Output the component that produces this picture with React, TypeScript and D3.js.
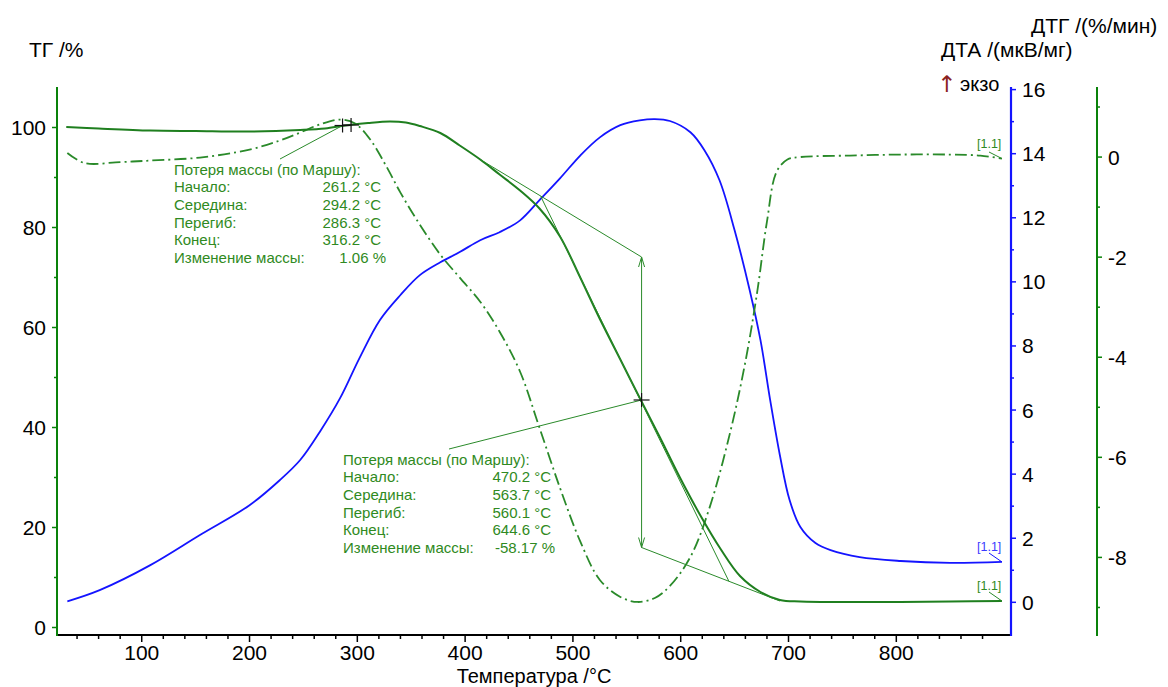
import * as d3 from 'd3'

// TG curve (mass, %)
const TG_T = [30, 60, 108, 150, 200, 247, 270, 289, 310, 330, 345, 358, 377, 395, 414, 432, 451, 469, 488, 507, 525, 544, 562, 581, 599, 618, 637, 655, 674, 692, 711, 760, 804, 850, 898]
const TG_V = [100.1, 99.8, 99.4, 99.3, 99.2, 99.5, 99.8, 100.4, 100.9, 101.2, 101.0, 100.3, 98.9, 96.4, 93.6, 90.6, 87.4, 83.8, 78.2, 69.9, 61.7, 53.6, 45.9, 37.9, 30.1, 22.5, 15.7, 10.3, 7.1, 5.5, 5.2, 5.1, 5.1, 5.2, 5.3]

// DTA curve (µV/mg)
const DTA_T = [31, 61, 108, 154, 200, 228, 247, 265, 284, 302, 321, 340, 358, 377, 395, 414, 432, 451, 469, 488, 507, 525, 544, 562, 576, 590, 609, 622, 636, 650, 664, 674, 683, 692, 701, 711, 725, 739, 766, 804, 850, 898]
const DTA_V = [0.03, 0.38, 1.16, 2.10, 3.03, 3.81, 4.44, 5.31, 6.37, 7.62, 8.81, 9.59, 10.21, 10.61, 10.93, 11.30, 11.55, 11.92, 12.55, 13.23, 13.95, 14.51, 14.89, 15.04, 15.08, 15.02, 14.67, 14.11, 13.17, 11.61, 9.74, 8.18, 6.31, 4.59, 3.19, 2.35, 1.85, 1.63, 1.41, 1.29, 1.23, 1.26]

// DTG curve (%/min)
const DTG_T = [31, 47, 80, 108, 154, 200, 228, 247, 265, 284, 298, 312, 326, 340, 358, 377, 395, 414, 432, 451, 469, 488, 507, 525, 544, 560, 576, 590, 609, 627, 646, 660, 671, 680, 689, 699, 711, 757, 804, 850, 878, 898]
const DTG_V = [0.08, -0.12, -0.10, -0.07, -0.01, 0.15, 0.33, 0.49, 0.65, 0.75, 0.67, 0.35, -0.15, -0.71, -1.35, -1.95, -2.41, -2.89, -3.49, -4.29, -5.41, -6.61, -7.69, -8.45, -8.79, -8.89, -8.81, -8.57, -7.99, -6.99, -5.49, -4.09, -2.69, -1.29, -0.29, -0.05, 0.0, 0.03, 0.05, 0.05, 0.03, -0.03]

// axis ticks
const X_MAJOR = [100, 200, 300, 400, 500, 600, 700, 800]
const X_MINOR = d3.range(40, 901, 20).filter(v => v % 100 !== 0)
const TG_TICKS = [0, 20, 40, 60, 80, 100]
const TG_MINOR = [10, 30, 50, 70, 90]
const DTA_TICKS = [0, 2, 4, 6, 8, 10, 12, 14, 16]
const DTA_MINOR = [1, 3, 5, 7, 9, 11, 13, 15]
const DTG_TICKS = [0, -2, -4, -6, -8]
const DTG_MINOR = [1, -1, -3, -5, -7, -9]

// Marsh evaluation results
const STEP_LABELS = ['Потеря массы (по Маршу):', 'Начало:', 'Середина:', 'Перегиб:', 'Конец:', 'Изменение массы:']
const STEP1_VALUES = ['', '261.2 °C', '294.2 °C', '286.3 °C', '316.2 °C', '1.06 %']
const STEP2_VALUES = ['', '470.2 °C', '563.7 °C', '560.1 °C', '644.6 °C', '-58.17 %']
const STEP1_CROSSES = [[286.3, 100.4], [294.2, 100.5]]
const STEP2_MID = [563.7, 45.5]
const STEP2_UPPER = [[414, 93.6], [563.7, 74.1]]
const STEP2_TANGENT = [[470.2, 86.2], [644.6, 9.3]]
const STEP2_LOWER = [[563.7, 16.0], [692, 5.3]]

const W = 1168
const H = 687
const FONT = 'Arial, "Liberation Sans", sans-serif'
const GREEN_AX = '#0a820a'
const TG_COL = '#1f7f1f'
const DTG_COL = '#2a8a2a'
const TXT_GREEN = '#2f8a22'
const BLUE = '#1414ff'

export default function App() {
  const x = d3.scaleLinear().domain([21.4, 906.4]).range([57, 1011])
  const yTG = d3.scaleLinear().domain([-1.5, 107.9]).range([635, 88])
  const yDTA = d3.scaleLinear().domain([-1.02, 16.05]).range([635, 88])
  const yDTG = d3.scaleLinear().domain([-9.55, 1.38]).range([635, 88])

  const mk = (ys: d3.ScaleLinear<number, number>) =>
    d3.line<[number, number]>().x(d => x(d[0])).y(d => ys(d[1])).curve(d3.curveCatmullRom.alpha(0.5))

  const tgPts = TG_T.map((t, i) => [t, TG_V[i]] as [number, number])
  const dtaPts = DTA_T.map((t, i) => [t, DTA_V[i]] as [number, number])
  const dtgPts = DTG_T.map((t, i) => [t, DTG_V[i]] as [number, number])

  const seg = (p: number[][], key: string) => (
    <line key={key} x1={x(p[0][0])} y1={yTG(p[0][1])} x2={x(p[1][0])} y2={yTG(p[1][1])}
      stroke={DTG_COL} strokeWidth={1} />
  )

  const ax = x(STEP2_MID[0])
  const aTop = yTG(STEP2_UPPER[1][1])
  const aBot = yTG(STEP2_LOWER[0][1])

  const cross = (cx: number, cy: number, key: string) => (
    <g key={key} stroke="#111" strokeWidth={1.2}>
      <line x1={cx - 8} y1={cy} x2={cx + 8} y2={cy} />
      <line x1={cx} y1={cy - 7} x2={cx} y2={cy + 7} />
    </g>
  )

  const block = (x0: number, xv: number, xp: number, y0: number, values: string[]) =>
    STEP_LABELS.map((lab, i) => (
      <g key={lab} fontSize={15} fill={TXT_GREEN} fontFamily={FONT}>
        <text x={x0} y={y0 + i * 17.7} dominantBaseline="central">{lab}</text>
        {values[i] && (
          <text x={i === 5 ? xp : xv} y={y0 + i * 17.7} textAnchor="end" dominantBaseline="central">{values[i]}</text>
        )}
      </g>
    ))

  const lastTG = tgPts[tgPts.length - 1]
  const lastDTA = dtaPts[dtaPts.length - 1]
  const lastDTG = dtgPts[dtgPts.length - 1]

  return (
    <svg width={W} height={H} style={{ position: 'absolute', left: 0, top: 0, background: '#fff' }}
      fontFamily={FONT}>
      {/* titles */}
      <text x={29} y={57} fontSize={21}>ТГ /%</text>
      <text x={1031} y={33} fontSize={21}>ДТГ /(%/мин)</text>
      <text x={941} y={57} fontSize={21}>ДТА /(мкВ/мг)</text>
      <text x={937} y={92} fontSize={23} fill="#8b1f1f" fontFamily='"DejaVu Sans", sans-serif'>↑</text>
      <text x={960} y={91} fontSize={20}>экзо</text>
      <text x={534} y={682.5} fontSize={20} textAnchor="middle">Температура /°C</text>

      {/* bottom axis */}
      <line x1={56} y1={635} x2={1012} y2={635} stroke="#000" strokeWidth={2} />
      {X_MINOR.map(v => <line key={'xm' + v} x1={x(v)} x2={x(v)} y1={635} y2={639} stroke="#000" strokeWidth={1.5} />)}
      {X_MAJOR.map(v => (
        <g key={'xM' + v}>
          <line x1={x(v)} x2={x(v)} y1={635} y2={642} stroke="#000" strokeWidth={1.5} />
          <text x={x(v)} y={659.5} fontSize={21} textAnchor="middle">{v}</text>
        </g>
      ))}

      {/* left TG axis */}
      <line x1={57} y1={87} x2={57} y2={636} stroke={GREEN_AX} strokeWidth={2} />
      {TG_MINOR.map(v => <line key={'tm' + v} x1={54} x2={57} y1={yTG(v)} y2={yTG(v)} stroke={GREEN_AX} strokeWidth={1.5} />)}
      {TG_TICKS.map(v => (
        <g key={'tg' + v}>
          <line x1={52} x2={57} y1={yTG(v)} y2={yTG(v)} stroke={GREEN_AX} strokeWidth={1.5} />
          <text x={46} y={yTG(v)} fontSize={21} textAnchor="end" dominantBaseline="central">{v}</text>
        </g>
      ))}

      {/* DTA axis */}
      <line x1={1011} y1={87} x2={1011} y2={636} stroke={BLUE} strokeWidth={2.2} />
      {DTA_MINOR.map(v => <line key={'dm' + v} x1={1011} x2={1014} y1={yDTA(v)} y2={yDTA(v)} stroke={BLUE} strokeWidth={1.5} />)}
      {DTA_TICKS.map(v => (
        <g key={'da' + v}>
          <line x1={1011} x2={1016} y1={yDTA(v)} y2={yDTA(v)} stroke={BLUE} strokeWidth={1.5} />
          <text x={1022} y={yDTA(v)} fontSize={21} dominantBaseline="central">{v}</text>
        </g>
      ))}

      {/* DTG axis */}
      <line x1={1097} y1={87} x2={1097} y2={636} stroke={GREEN_AX} strokeWidth={2} />
      {DTG_MINOR.map(v => <line key={'gm' + v} x1={1097} x2={1100} y1={yDTG(v)} y2={yDTG(v)} stroke={GREEN_AX} strokeWidth={1.5} />)}
      {DTG_TICKS.map(v => (
        <g key={'dg' + v}>
          <line x1={1097} x2={1102} y1={yDTG(v)} y2={yDTG(v)} stroke={GREEN_AX} strokeWidth={1.5} />
          <text x={1108} y={yDTG(v)} fontSize={21} dominantBaseline="central">{v}</text>
        </g>
      ))}

      {/* curves */}
      <path d={mk(yDTA)(dtaPts) ?? ''} fill="none" stroke={BLUE} strokeWidth={1.8} />
      <path d={mk(yDTG)(dtgPts) ?? ''} fill="none" stroke={DTG_COL} strokeWidth={1.8} strokeDasharray="12,4,2,4" />
      <path d={mk(yTG)(tgPts) ?? ''} fill="none" stroke={TG_COL} strokeWidth={2} />

      {/* Marsh construction, step 2 */}
      {seg(STEP2_UPPER, 'up')}
      {seg(STEP2_TANGENT, 'tan')}
      {seg(STEP2_LOWER, 'low')}
      <g stroke={DTG_COL} strokeWidth={1} fill="none">
        <line x1={ax} y1={aTop} x2={ax} y2={aBot} />
        <polyline points={`${ax - 3},${aTop + 10} ${ax},${aTop} ${ax + 3},${aTop + 10}`} />
        <polyline points={`${ax - 3},${aBot - 10} ${ax},${aBot} ${ax + 3},${aBot - 10}`} />
        <line x1={449} y1={449} x2={ax} y2={yTG(STEP2_MID[1])} />
        <line x1={280} y1={159} x2={x(STEP1_CROSSES[0][0])} y2={yTG(STEP1_CROSSES[0][1])} />
      </g>
      {cross(ax, yTG(STEP2_MID[1]), 'c2')}
      {STEP1_CROSSES.map((c, i) => cross(x(c[0]), yTG(c[1]), 'c1' + i))}

      {/* result blocks */}
      {block(174, 381, 386, 169, STEP1_VALUES)}
      {block(343, 551, 555, 459, STEP2_VALUES)}

      {/* curve labels */}
      <g fontSize={12.5} fontFamily={FONT}>
        <text x={977} y={148} fill={TXT_GREEN}>[1.1]</text>
        <line x1={989} y1={152} x2={x(lastDTG[0])} y2={yDTG(lastDTG[1])} stroke={DTG_COL} strokeWidth={1} />
        <text x={977} y={551} fill="#3a3aff">[1.1]</text>
        <line x1={989} y1={553} x2={x(lastDTA[0])} y2={yDTA(lastDTA[1])} stroke={BLUE} strokeWidth={1} />
        <text x={977} y={590} fill={TXT_GREEN}>[1.1]</text>
        <line x1={989} y1={592} x2={x(lastTG[0])} y2={yTG(lastTG[1])} stroke={DTG_COL} strokeWidth={1} />
      </g>
    </svg>
  )
}
